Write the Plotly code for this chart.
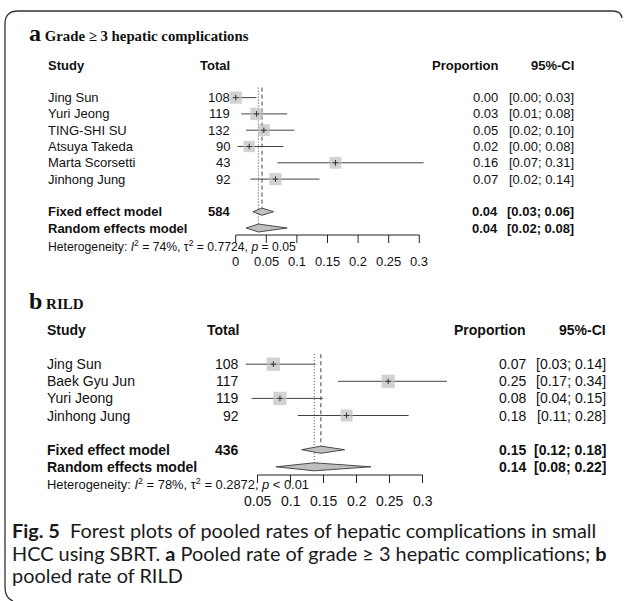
import math
import plotly.graph_objects as go

# ---------------- data ----------------
# (a) grade >= 3 hepatic complications
a_study = ["Jing Sun", "Yuri Jeong", "TING-SHI SU", "Atsuya Takeda", "Marta Scorsetti", "Jinhong Jung"]
a_total = [108, 119, 132, 90, 43, 92]
a_prop = [0.000, 0.034, 0.046, 0.022, 0.163, 0.065]
a_lower = [0.000, 0.009, 0.017, 0.003, 0.068, 0.024]
a_upper = [0.034, 0.084, 0.096, 0.078, 0.307, 0.137]
a_weight = [17.6, 17.6, 16.2, 14.8, 16.2, 17.6]
a_fixed = [0.043, 0.028, 0.062]      # estimate, lower, upper
a_random = [0.037, 0.017, 0.084]
a_fixed_n = 584
a_het = ["74%", "0.7724", "= 0.05"]  # I^2, tau^2, p
a_ticks = [0, 0.05, 0.1, 0.15, 0.2, 0.25, 0.3]
a_ticktext = ["0", "0.05", "0.1", "0.15", "0.2", "0.25", "0.3"]

# (b) RILD
b_study = ["Jing Sun", "Baek Gyu Jun", "Yuri Jeong", "Jinhong Jung"]
b_total = [108, 117, 119, 92]
b_prop = [0.074, 0.248, 0.084, 0.185]
b_lower = [0.032, 0.172, 0.041, 0.111]
b_upper = [0.138, 0.337, 0.149, 0.279]
b_weight = [26.2, 26.2, 26.2, 21.3]
b_fixed = [0.146, 0.117, 0.182]
b_random = [0.136, 0.078, 0.222]
b_fixed_n = 436
b_het = ["78%", "0.2872", "< 0.01"]
b_ticks = [0.05, 0.1, 0.15, 0.2, 0.25, 0.3]
b_ticktext = ["0.05", "0.1", "0.15", "0.2", "0.25", "0.3"]

caption_lines = [
    "<b>Fig. 5</b>  Forest plots of pooled rates of hepatic complications in small",
    "HCC using SBRT. <b>a</b> Pooled rate of grade \u2265 3 hepatic complications; <b>b</b>",
    "pooled rate of RILD",
]

# ---------------- page geometry ----------------
W, H = 625, 601
SANS = "Liberation Sans, Arial, sans-serif"
SERIF = "Liberation Serif, Times New Roman, serif"
CAPFONT = "Lato, Open Sans, sans-serif"
SQ_FILL = "#bfbfbf"
LINE = "#444444"


def value_range(zero_px, px_per_unit):
    return [-zero_px / px_per_unit, (W - zero_px) / px_per_unit]


fig = go.Figure()


def label(x, y, text, size, anchor="left", bold=False, family=SANS, color="#111111"):
    if bold:
        text = f"<b>{text}</b>"
    fig.add_annotation(x=x, y=y, xref="x", yref="y", text=text, showarrow=False,
                       xanchor=anchor, yanchor="middle", borderpad=0, borderwidth=0,
                       font=dict(family=family, size=size, color=color))


def fmt(v):
    return f"{v:.2f}"


def forest(xa, top, dy, fs, fs_het, cols, study, total, prop, lower, upper, weight,
           fixed, random, fixed_n, het, ticks, ticktext, axis_y, tick_label_y,
           het_y, sq_max):
    x_study, x_total, x_prop, x_ci = cols
    row = lambda r: top + r * dy

    # column headers
    label(x_study, row(0), "Study", fs, bold=True)
    label(x_total, row(0), "Total", fs, anchor="right", bold=True)
    label(x_prop, row(0), "Proportion", fs, anchor="right", bold=True)
    label(x_ci, row(0), "95%-CI", fs, anchor="right", bold=True)

    ys = [row(2 + i) for i in range(len(study))]
    for name, n, p, lo, hi, y in zip(study, total, prop, lower, upper, ys):
        label(x_study, y, name, fs)
        label(x_total, y, str(n), fs, anchor="right")
        label(x_prop, y, fmt(p), fs, anchor="right")
        label(x_ci, y, f"[{fmt(lo)}; {fmt(hi)}]", fs, anchor="right")

    y_fix = row(2 + len(study) + 1)
    y_ran = row(2 + len(study) + 2)
    label(x_study, y_fix, "Fixed effect model", fs, bold=True)
    label(x_total, y_fix, str(fixed_n), fs, anchor="right", bold=True)
    label(x_prop, y_fix, fmt(fixed[0]), fs, anchor="right", bold=True)
    label(x_ci, y_fix, f"[{fmt(fixed[1])}; {fmt(fixed[2])}]", fs, anchor="right", bold=True)
    label(x_study, y_ran, "Random effects model", fs, bold=True)
    label(x_prop, y_ran, fmt(random[0]), fs, anchor="right", bold=True)
    label(x_ci, y_ran, f"[{fmt(random[1])}; {fmt(random[2])}]", fs, anchor="right", bold=True)
    label(x_study, het_y,
          f"Heterogeneity: <i>I</i><sup>2</sup> = {het[0]}, \u03c4<sup>2</sup> = {het[1]}, <i>p</i> {het[2]}",
          fs_het)

    # reference lines: fixed (dashed) and random (dotted)
    fig.add_trace(go.Scatter(x=[fixed[0], fixed[0]], y=[ys[0] - 10, y_fix - 4], xaxis=xa, mode="lines",
                             line=dict(color="#444444", width=1, dash="4px,3px"), hoverinfo="skip"))
    fig.add_trace(go.Scatter(x=[random[0], random[0]], y=[ys[0] - 10, y_ran - 4], xaxis=xa, mode="lines",
                             line=dict(color="#444444", width=1, dash="1px,2px"), hoverinfo="skip"))

    # confidence intervals
    cx, cy = [], []
    for lo, hi, y in zip(lower, upper, ys):
        cx += [lo, hi, None]
        cy += [y, y, None]
    fig.add_trace(go.Scatter(x=cx, y=cy, xaxis=xa, mode="lines",
                             line=dict(color=LINE, width=1), hoverinfo="skip"))

    # weighted squares with a small cross at the estimate
    wmax = max(weight)
    sizes = [sq_max * math.sqrt(w / wmax) for w in weight]
    fig.add_trace(go.Scatter(x=prop, y=ys, xaxis=xa, mode="markers",
                             marker=dict(symbol="square", size=sizes, color=SQ_FILL,
                                         line=dict(width=0)), hoverinfo="skip"))
    fig.add_trace(go.Scatter(x=prop, y=ys, xaxis=xa, mode="markers",
                             marker=dict(symbol="cross-thin-open", size=4, color="#333333",
                                         line=dict(width=1, color="#333333")), hoverinfo="skip"))

    # pooled diamonds
    for (est, lo, hi), y, half in ((fixed, y_fix, 3.6), (random, y_ran, 4.0)):
        fig.add_trace(go.Scatter(x=[lo, est, hi, est, lo], y=[y, y - half, y, y + half, y],
                                 xaxis=xa, mode="lines", fill="toself", fillcolor=SQ_FILL,
                                 line=dict(color="#4a4a4a", width=1), hoverinfo="skip"))

    # x axis with outward ticks
    ax, ay = [ticks[0], ticks[-1], None], [axis_y, axis_y, None]
    for t in ticks:
        ax += [t, t, None]
        ay += [axis_y, axis_y + 8, None]
    fig.add_trace(go.Scatter(x=ax, y=ay, xaxis=xa, mode="lines",
                             line=dict(color="#222222", width=1), hoverinfo="skip"))
    for t, tt in zip(ticks, ticktext):
        fig.add_annotation(x=t, y=tick_label_y, xref=xa, yref="y", text=tt, showarrow=False,
                           xanchor="center", yanchor="middle", borderpad=0, borderwidth=0,
                           font=dict(family=SANS, size=fs, color="#111111"))


# panel titles
fig.add_annotation(x=29, y=33, xref="x", yref="y", showarrow=False, xanchor="left", yanchor="middle",
                   borderpad=0, borderwidth=0,
                   text="<b><span style='font-size:24px'>a</span> Grade \u2265 3 hepatic complications</b>",
                   font=dict(family=SERIF, size=14.8, color="#111111"))
fig.add_annotation(x=29, y=301, xref="x", yref="y", showarrow=False, xanchor="left", yanchor="middle",
                   borderpad=0, borderwidth=0,
                   text="<b><span style='font-size:24px'>b</span> RILD</b>",
                   font=dict(family=SERIF, size=15, color="#111111"))

forest("x2", 65, 16.3, 13, 12.2, (48, 229.5, 498, 573.5),
       a_study, a_total, a_prop, a_lower, a_upper, a_weight,
       a_fixed, a_random, a_fixed_n, a_het, a_ticks, a_ticktext,
       axis_y=235, tick_label_y=261.7, het_y=245.5, sq_max=12.3)

forest("x3", 330, 17.1, 14, 12.9, (47, 238.5, 525.5, 605.5),
       b_study, b_total, b_prop, b_lower, b_upper, b_weight,
       b_fixed, b_random, b_fixed_n, b_het, b_ticks, b_ticktext,
       axis_y=475, tick_label_y=501, het_y=483.5, sq_max=13.3)

# caption
for i, line in enumerate(caption_lines):
    label(12, 530 + i * 22.7, line, 19.9, family=CAPFONT, color="#1a1a1a")

# rounded frame around the figure
fig.add_shape(type="path", xref="x", yref="y",
              path="M 622,18 Q 621,11 613,11 L 18,11 Q 5,11 5,24 L 5,587 Q 5,598 13,601",
              line=dict(color="#333333", width=1.3))

fig.update_layout(
    width=W, height=H, autosize=False,
    margin=dict(l=0, r=0, t=0, b=0, pad=0),
    paper_bgcolor="white", plot_bgcolor="white",
    showlegend=False,
    xaxis=dict(range=[0, W], domain=[0, 1], visible=False, fixedrange=True),
    xaxis2=dict(range=value_range(235.7, 612.0), domain=[0, 1], overlaying="x", visible=False),
    xaxis3=dict(range=value_range(224.5, 660.0), domain=[0, 1], overlaying="x", visible=False),
    yaxis=dict(range=[H, 0], domain=[0, 1], visible=False, fixedrange=True),
)

fig.write_html("out.html")
